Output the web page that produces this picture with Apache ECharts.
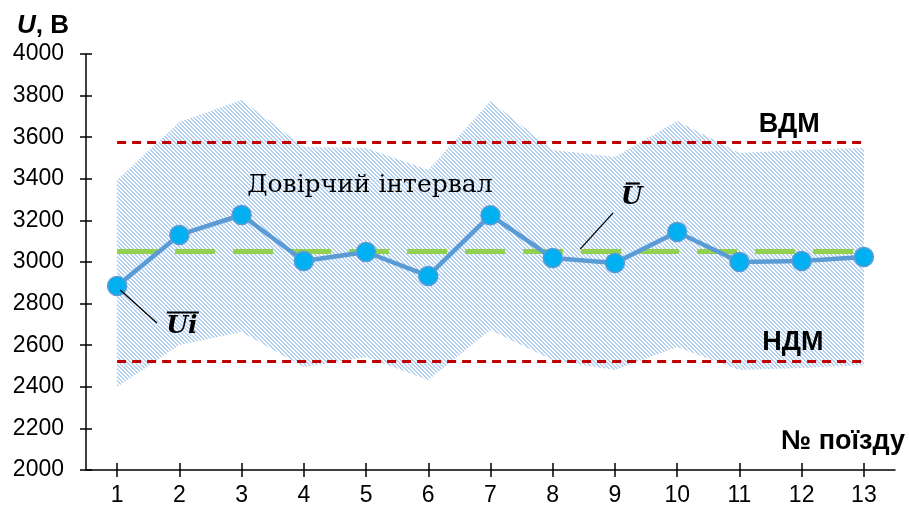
<!DOCTYPE html>
<html>
<head>
<meta charset="utf-8">
<script src="https://cdn.jsdelivr.net/npm/echarts/dist/echarts.min.js"></script>
<style>
  html, body { margin: 0; padding: 0; background: #fff; }
  #chart { width: 909px; height: 509px; }
</style>
</head>
<body>
<div id="chart"></div>
<script>
// Train numbers on the horizontal axis
const trains = ['1', '2', '3', '4', '5', '6', '7', '8', '9', '10', '11', '12', '13'];
// Mean pantograph voltage per train, V
const meanU = [2885, 3130, 3226, 3005, 3048, 2933, 3225, 3019, 2995, 3144, 3000, 3005, 3024];
// Confidence interval bounds per train, V
const ciUpper = [3394, 3673, 3779, 3553, 3548, 3442, 3774, 3538, 3505, 3678, 3524, 3538, 3548];
const ciLower = [2399, 2601, 2663, 2495, 2543, 2433, 2673, 2529, 2481, 2591, 2481, 2490, 2505];
// Overall mean and permissible limits, V
const U_AVG = 3050;
const VDM = 3575;
const NDM = 2525;
// Voltage axis range
const Y_MIN = 2000, Y_MAX = 4000, Y_STEP = 200;

const SANS = '"Liberation Sans", Arial, sans-serif';
const SERIF = '"DejaVu Serif", "Liberation Serif", serif';

// Diagonal hatch used for the confidence band
function hatchPattern() {
  const c = document.createElement('canvas');
  c.width = 8; c.height = 8;
  const g = c.getContext('2d');
  g.fillStyle = '#ffffff';
  g.fillRect(0, 0, 8, 8);
  g.fillStyle = '#b3d0ee';
  for (let y = 0; y < 8; y++) {
    for (let x = 0; x < 8; x++) {
      if ((((x - y) % 4) + 4) % 4 < 2) g.fillRect(x, y, 1, 1);
    }
  }
  return c;
}

const ciSpan = ciUpper.map((u, i) => u - ciLower[i]);

const chart = echarts.init(document.getElementById('chart'), null, { renderer: 'canvas' });

const axisBlack = { color: '#000', width: 1.5 };

const option = {
  animation: false,
  backgroundColor: '#fff',
  grid: { left: 86, right: 14, top: 54, bottom: 39, containLabel: false },
  xAxis: [
    {
      type: 'category', data: trains, position: 'bottom', boundaryGap: true,
      axisLine: { show: true, lineStyle: axisBlack },
      axisTick: { show: true, alignWithLabel: true, length: 7, lineStyle: axisBlack },
      axisLabel: { color: '#000', fontSize: 23, fontFamily: SANS, margin: 14 },
      splitLine: { show: false }
    },
    {
      type: 'category', data: trains, position: 'bottom', boundaryGap: true,
      axisLine: { show: false },
      axisTick: { show: true, inside: true, alignWithLabel: true, length: 7, lineStyle: axisBlack },
      axisLabel: { show: false },
      splitLine: { show: false }
    }
  ],
  yAxis: [
    {
      type: 'value', min: Y_MIN, max: Y_MAX, interval: Y_STEP, position: 'left',
      axisLine: { show: true, lineStyle: axisBlack },
      axisTick: { show: true, length: 6, lineStyle: axisBlack },
      axisLabel: { color: '#000', fontSize: 23, fontFamily: SANS, margin: 22, formatter: v => String(v) },
      splitLine: { show: false }
    },
    {
      type: 'value', min: Y_MIN, max: Y_MAX, interval: Y_STEP, position: 'left',
      axisLine: { show: false },
      axisTick: { show: true, inside: true, length: 6, lineStyle: axisBlack },
      axisLabel: { show: false },
      splitLine: { show: false }
    }
  ],
  series: [
    {
      name: 'ciBase', type: 'line', stack: 'ci', data: ciLower,
      symbol: 'none', silent: true, z: 1,
      lineStyle: { opacity: 0 }
    },
    {
      name: 'ciSpan', type: 'line', stack: 'ci', data: ciSpan,
      symbol: 'none', silent: true, z: 1,
      lineStyle: { opacity: 0 },
      areaStyle: { color: { image: hatchPattern(), repeat: 'repeat' }, opacity: 1 }
    },
    {
      name: 'limits', type: 'line', data: [], silent: true, z: 3,
      markLine: {
        silent: true, symbol: 'none', animation: false,
        label: { show: false },
        data: [
          [{ coord: [trains[0], VDM], lineStyle: { color: '#c00000', width: 3, type: [9, 6] } },
           { coord: [trains[trains.length - 1], VDM] }],
          [{ coord: [trains[0], NDM], lineStyle: { color: '#c00000', width: 3, type: [9, 6] } },
           { coord: [trains[trains.length - 1], NDM] }],
          [{ coord: [trains[0], U_AVG], lineStyle: { color: '#92d050', width: 5, type: [40, 18] } },
           { coord: [trains[trains.length - 1], U_AVG] }]
        ]
      }
    },
    {
      name: 'Ui', type: 'line', data: meanU, z: 5,
      lineStyle: { color: '#5b9bd5', width: 4.5 },
      symbol: 'circle', symbolSize: 19,
      itemStyle: { color: '#00b0f0', borderColor: '#5b9bd5', borderWidth: 1.5 }
    }
  ]
};

chart.setOption(option);

// Place annotations in data space (fractional train index, voltage)
function at(i, v) {
  const a = chart.convertToPixel({ gridIndex: 0 }, [trains[0], v]);
  const b = chart.convertToPixel({ gridIndex: 0 }, [trains[1], v]);
  return [a[0] + (b[0] - a[0]) * i, a[1]];
}

function txt(p, text, font, align) {
  return {
    type: 'text', z: 20, silent: true,
    style: {
      text: text, x: p[0], y: p[1], font: font, fill: '#000',
      align: align, verticalAlign: 'middle',
      textAlign: align, textVerticalAlign: 'middle'
    }
  };
}

function seg(p, q, w) {
  return {
    type: 'line', z: 20, silent: true,
    shape: { x1: p[0], y1: p[1], x2: q[0], y2: q[1] },
    style: { stroke: '#000', lineWidth: w }
  };
}

const ciPos = at(2.09, 3370);
const uBarPos = at(8.27, 3310);
const uiPos = at(1.04, 2690);
const vdmPos = at(10.8, 3663);
const ndmPos = at(10.86, 2615);
const trainTitle = at(12.66, 2135);

const graphics = [
  txt(ciPos, 'Довірчий інтервал', '25px ' + SERIF, 'left'),
  txt(uBarPos, 'U', 'italic bold 25px ' + SERIF, 'center'),
  seg([uBarPos[0] - 6, uBarPos[1] - 14], [uBarPos[0] + 8, uBarPos[1] - 14], 2.2),
  seg(at(7.44, 3062), at(7.97, 3236), 1.3),
  txt(uiPos, 'Ui', 'italic bold 25px ' + SERIF, 'center'),
  seg([uiPos[0] - 15, uiPos[1] - 14], [uiPos[0] + 17, uiPos[1] - 14], 2.2),
  seg(at(0.05, 2865), at(0.64, 2707), 1.3),
  txt(vdmPos, 'ВДМ', 'bold 27px ' + SANS, 'center'),
  txt(ndmPos, 'НДМ', 'bold 27px ' + SANS, 'center'),
  txt(trainTitle, '№ поїзду', 'bold 27px ' + SANS, 'right'),
  {
    type: 'text', z: 20, silent: true,
    style: {
      x: 17, y: 26, fill: '#000',
      text: '{a|U}{b|, В}',
      verticalAlign: 'middle', textVerticalAlign: 'middle',
      rich: {
        a: { font: 'italic bold 26px ' + SANS, fill: '#000' },
        b: { font: 'bold 26px ' + SANS, fill: '#000' }
      }
    }
  }
];

chart.setOption({ graphic: graphics });
</script>
</body>
</html>
